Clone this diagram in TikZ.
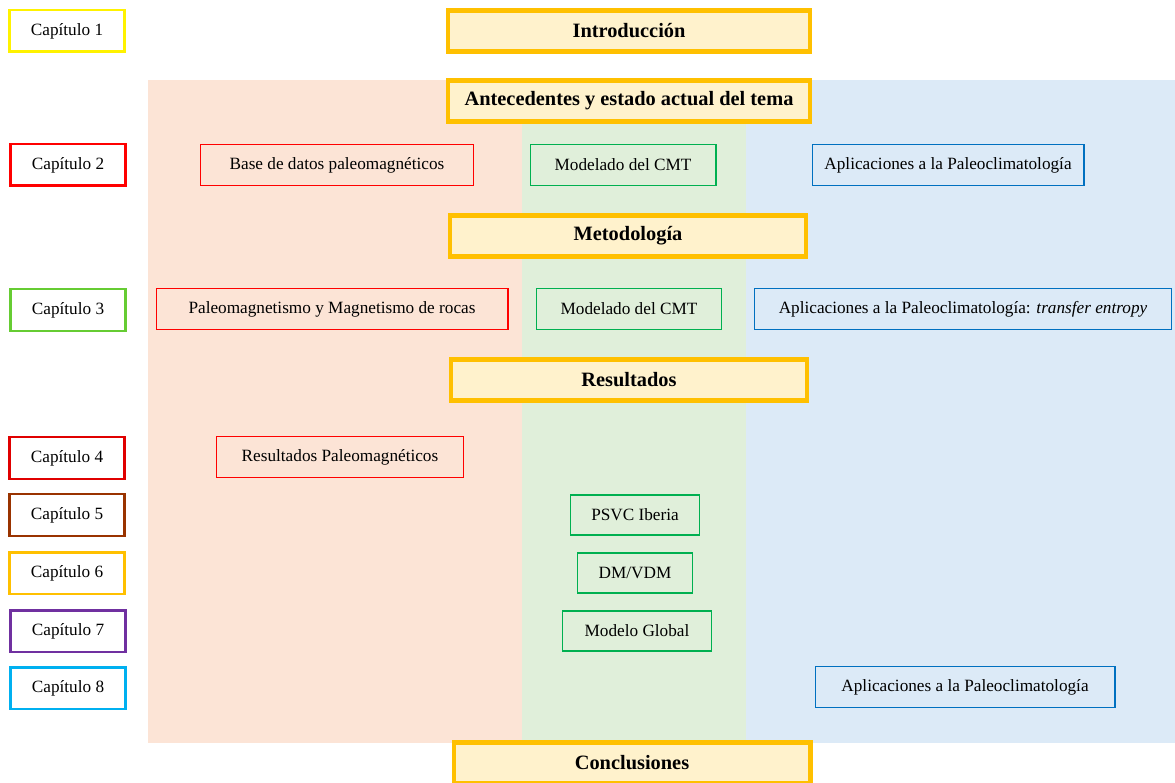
\documentclass[tikz,border=0pt]{standalone}
\usepackage{fontspec}
\setmainfont{Liberation Serif}
\usetikzlibrary{positioning}

\definecolor{peach}{HTML}{FCE4D6}
\definecolor{mint}{HTML}{E0EFDA}
\definecolor{sky}{HTML}{DCEAF7}
\definecolor{headfill}{HTML}{FFF2CC}
\definecolor{headline}{HTML}{FFC000}
\definecolor{redline}{HTML}{FF0000}
\definecolor{greenline}{HTML}{00B050}
\definecolor{blueline}{HTML}{0070C0}

\tikzset{
	chapbox/.style={draw, line width=1.7pt, fill=white, minimum width=2.3cm, minimum height=0.84cm, inner sep=0pt},
	headbox/.style={draw=headline, line width=2.3pt, fill=headfill, minimum width=7.2cm, minimum height=0.82cm, inner sep=0pt, font=\fontsize{11.6}{13}\selectfont\bfseries},
	redbox/.style={draw=redline, line width=0.6pt, minimum height=0.82cm, inner sep=0pt},
	greenbox/.style={draw=greenline, line width=0.6pt, minimum height=0.8cm, inner sep=0pt},
	bluebox/.style={draw=blueline, line width=0.6pt, minimum height=0.82cm, inner sep=0pt}
}

\begin{document}
\begin{tikzpicture}[x=0.02cm,y=-0.02cm,font=\fontsize{9.8}{12}\selectfont]
	\useasboundingbox (0,0) rectangle (1175,783);
	
	% fondos
	\fill[peach] (148,80) rectangle (522,743);
	\fill[mint] (522,80) rectangle (746,743);
	\fill[sky] (746,80) rectangle (1175,743);
	
	% capitulos
	\node[chapbox, draw=yellow] at (67,31) (c1) {Capítulo 1};
	\node[chapbox, draw=redline] at (68,165) (c2) {Capítulo 2};
	\node[chapbox, draw={rgb,255:red,102;green,204;blue,51}] at (68,310) (c3) {Capítulo 3};
	\node[chapbox, draw={rgb,255:red,224;green,0;blue,0}] at (67,458) (c4) {Capítulo 4};
	\node[chapbox, draw={rgb,255:red,153;green,51;blue,0}] at (67,515) (c5) {Capítulo 5};
	\node[chapbox, draw=headline] at (67,573) (c6) {Capítulo 6};
	\node[chapbox, draw={rgb,255:red,112;green,48;blue,160}] at (68,631) (c7) {Capítulo 7};
	\node[chapbox, draw={rgb,255:red,0;green,176;blue,240}] at (68,688) (c8) {Capítulo 8};
	
	% bloques principales
	\node[headbox, minimum width=7.24cm] at (629,31) (intro) {Introducción};
	\node[headbox, minimum width=7.26cm] at (629,101) (ante) {Antecedentes y estado actual del tema};
	\node[headbox, minimum width=7.12cm] at (628,236) (meto) {Metodología};
	\node[headbox, minimum width=7.12cm] at (629,380) (res) {Resultados};
	\node[headbox, minimum width=7.14cm] at (632,763) (concl) {Conclusiones};
	
	% capitulo 2
	\node[redbox, minimum width=5.46cm] at (337,165) (base) {Base de datos paleomagnéticos};
	\node[greenbox, minimum width=3.72cm, minimum height=0.82cm] at (623,165) (cmta) {Modelado del CMT};
	\node[bluebox, minimum width=5.44cm] at (948,165) (apla) {Aplicaciones a la Paleoclimatología};
	
	% capitulo 3
	\node[redbox, minimum width=7.04cm] at (332,309) (paleo) {Paleomagnetismo y Magnetismo de rocas};
	\node[greenbox, minimum width=3.7cm, minimum height=0.82cm] at (629,309) (cmtb) {Modelado del CMT};
	\node[bluebox, minimum width=8.34cm] at (963,309) (aplb) {Aplicaciones a la Paleoclimatología: \textit{transfer entropy}};
	
	% capitulos 4 a 8
	\node[redbox, minimum width=4.94cm] at (340,457) (resp) {Resultados Paleomagnéticos};
	\node[greenbox, minimum width=2.58cm] at (635,515) (psvc) {PSVC Iberia};
	\node[greenbox, minimum width=2.3cm] at (635,573) (dm) {DM/VDM};
	\node[greenbox, minimum width=2.98cm] at (637,631) (glob) {Modelo Global};
	\node[bluebox, minimum width=6cm] at (965,687) (aplc) {Aplicaciones a la Paleoclimatología};
\end{tikzpicture}
\end{document}
